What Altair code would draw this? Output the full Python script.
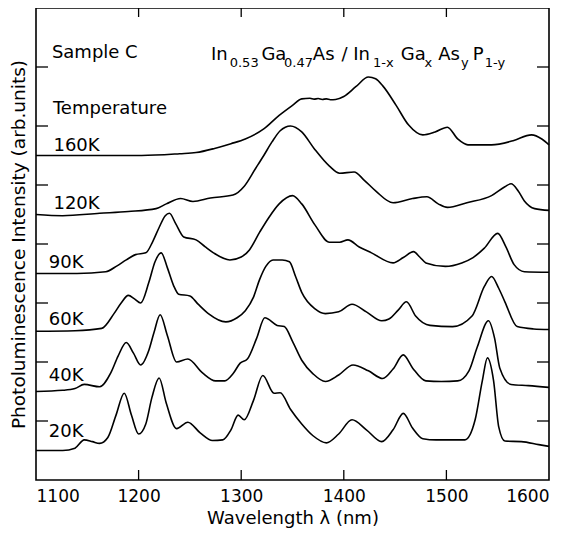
import altair as alt
import pandas as pd

# ---------------- data ----------------
temps = ["20K", "40K", "60K", "90K", "120K", "160K"]

wl_20 = [1100, 1126, 1138, 1147, 1155, 1162, 1170, 1178, 1186, 1193, 1200, 1207, 1213, 1220, 1227,
         1237, 1248, 1260, 1272, 1282, 1290, 1297, 1303, 1312, 1321, 1332, 1338, 1348, 1359, 1370,
         1383, 1395, 1408, 1422, 1437, 1448, 1458, 1467, 1477, 1490, 1518, 1528, 1535, 1540, 1546,
         1551, 1557, 1573, 1590, 1600]
i_20 = [0.50, 0.50, 0.54, 0.68, 0.65, 0.62, 0.72, 1.10, 1.47, 1.10, 0.78, 0.95, 1.40, 1.73, 1.30,
        0.87, 0.98, 0.80, 0.67, 0.68, 0.85, 1.10, 1.02, 1.35, 1.77, 1.47, 1.48, 1.20, 0.95, 0.75,
        0.63, 0.78, 1.02, 0.85, 0.65, 0.85, 1.13, 0.88, 0.70, 0.68, 0.68, 1.02, 1.68, 2.07, 1.68,
        0.90, 0.66, 0.65, 0.60, 0.57]

wl_40 = [1100, 1126, 1138, 1147, 1162, 1173, 1180, 1188, 1195, 1202, 1210, 1215, 1221, 1228, 1237,
         1248, 1262, 1275, 1284, 1292, 1299, 1306, 1315, 1323, 1335, 1342, 1350, 1359, 1370, 1382,
         1395, 1409, 1424, 1438, 1448, 1458, 1467, 1480, 1495, 1511, 1522, 1530, 1541, 1547, 1552,
         1563, 1580, 1600]
i_40 = [1.50, 1.52, 1.55, 1.62, 1.58, 1.82, 2.10, 2.33, 2.15, 1.95, 2.20, 2.50, 2.80, 2.45, 2.00,
        2.05, 1.82, 1.68, 1.68, 1.80, 1.98, 2.05, 2.40, 2.75, 2.62, 2.60, 2.35, 2.03, 1.80, 1.67,
        1.78, 1.95, 1.85, 1.72, 1.88, 2.12, 1.90, 1.68, 1.67, 1.68, 1.85, 2.25, 2.70, 2.40, 1.90,
        1.62, 1.60, 1.57]

wl_60 = [1100, 1138, 1164, 1176, 1183, 1190, 1196, 1202, 1210, 1216, 1222, 1228, 1234, 1239, 1250,
         1258, 1268, 1285, 1296, 1304, 1312, 1318, 1324, 1331, 1340, 1347, 1353, 1359, 1372, 1382,
         1395, 1408, 1422, 1437, 1444, 1453, 1461, 1470, 1484, 1506, 1525, 1537, 1544, 1551, 1557,
         1569, 1585, 1600]
i_60 = [2.52, 2.53, 2.57, 2.82, 3.00, 3.13, 3.07, 3.00, 3.35, 3.70, 3.85, 3.60, 3.30, 3.15, 3.12,
        2.98, 2.82, 2.68, 2.75, 2.87, 3.10, 3.40, 3.62, 3.73, 3.73, 3.70, 3.45, 3.18, 2.90, 2.82,
        2.85, 2.98, 2.85, 2.70, 2.73, 2.88, 3.02, 2.78, 2.62, 2.60, 2.78, 3.28, 3.45, 3.25, 3.02,
        2.60, 2.56, 2.55]

wl_90 = [1100, 1140, 1168, 1179, 1188, 1197, 1207, 1214, 1220, 1226, 1230, 1236, 1244, 1256, 1265,
         1273, 1289, 1300, 1308, 1318, 1327, 1337, 1350, 1359, 1372, 1386, 1396, 1404, 1415, 1427,
         1448, 1458, 1468, 1474, 1480, 1499, 1515, 1526, 1537, 1550, 1558, 1566, 1576, 1600]
i_90 = [3.50, 3.50, 3.53, 3.63, 3.73, 3.82, 3.85, 4.05, 4.28, 4.48, 4.52, 4.35, 4.12, 4.07, 3.95,
        3.85, 3.73, 3.78, 3.90, 4.20, 4.45, 4.68, 4.82, 4.68, 4.32, 4.03, 4.03, 4.07, 3.95, 3.85,
        3.68, 3.77, 3.87, 3.78, 3.68, 3.62, 3.68, 3.77, 3.93, 4.18, 3.95, 3.65, 3.53, 3.52]

wl_120 = [1100, 1126, 1162, 1190, 1217, 1227, 1241, 1253, 1270, 1292, 1303, 1314, 1322, 1330, 1338,
          1343, 1348, 1359, 1371, 1386, 1396, 1410, 1420, 1431, 1448, 1467, 1481, 1492, 1501, 1520,
          1544, 1557, 1563, 1570, 1576, 1586, 1600]
i_120 = [4.50, 4.48, 4.52, 4.55, 4.60, 4.68, 4.77, 4.72, 4.78, 4.83, 4.98, 5.28, 5.50, 5.73, 5.92,
         5.98, 6.00, 5.90, 5.62, 5.32, 5.20, 5.22, 5.08, 4.90, 4.70, 4.77, 4.80, 4.68, 4.62, 4.70,
         4.82, 4.97, 5.02, 4.90, 4.73, 4.60, 4.57]

wl_160 = [1100, 1150, 1203, 1240, 1256, 1274, 1290, 1304, 1322, 1337, 1350, 1359, 1367, 1371, 1375,
          1379, 1383, 1387, 1392, 1400, 1412, 1424, 1431, 1438, 1451, 1463, 1477, 1489, 1501, 1511,
          1521, 1544, 1565, 1583, 1593, 1600]
i_160 = [5.50, 5.50, 5.50, 5.53, 5.55, 5.62, 5.70, 5.78, 5.95, 6.18, 6.35, 6.46, 6.47, 6.455, 6.465,
         6.45, 6.46, 6.445, 6.45, 6.50, 6.67, 6.83, 6.80, 6.68, 6.35, 6.02, 5.85, 5.90, 5.98, 5.78,
         5.68, 5.68, 5.75, 5.85, 5.78, 5.68]

x_ticks = [1100, 1200, 1300, 1400, 1500, 1600]
x_inner_ticks = [1200, 1300, 1400, 1500]
y_inner_ticks = [1, 2, 3, 4, 5, 6, 7]

# temperature labels and text notes (wavelength, intensity position)
note_text = ["Sample C", "Temperature", "160K", "120K", "90K", "60K", "40K", "20K"]
note_wl = [1115.5, 1116.5, 1117.0, 1117.0, 1112.5, 1112.5, 1112.5, 1112.5]
note_y = [7.15, 6.20, 5.58, 4.60, 3.60, 2.62, 1.68, 0.73]

# title "In0.53Ga0.47As / In1-xGaxAsyP1-y" split into normal and subscript pieces
ttl_text = ["In", "0.53", "Ga", "0.47", "As", "/", "In", "1-x", "Ga", "x", "As", "y", "P", "1-y"]
ttl_wl = [1270.5, 1288.8, 1319.7, 1341.8, 1369.8, 1397.7, 1409.2, 1428.5, 1455.5, 1478.6,
          1492.1, 1514.3, 1525.8, 1537.4]
ttl_sub = [0, 1, 0, 1, 0, 0, 0, 1, 0, 1, 0, 1, 0, 1]

# ---------------- build tables ----------------
series = {"20K": (wl_20, i_20), "40K": (wl_40, i_40), "60K": (wl_60, i_60),
          "90K": (wl_90, i_90), "120K": (wl_120, i_120), "160K": (wl_160, i_160)}
rows = []
for t in temps:
    wl, iv = series[t]
    for w, v in zip(wl, iv):
        rows.append({"T": t, "wl": w, "I": v})
df = pd.DataFrame(rows)

notes = pd.DataFrame({"text": note_text, "wl": note_wl, "I": note_y})
ttl = pd.DataFrame({"text": ttl_text, "wl": ttl_wl,
                    "I": [7.00 if s else 7.12 for s in ttl_sub],
                    "size": [13 if s else 18 for s in ttl_sub]})

W, H = 513, 472
FONT = "DejaVu Sans"
XT = "Wavelength λ (nm)"
YT = "Photoluminescence Intensity (arb.units)"
xs = alt.Scale(domain=[1100, 1600], nice=False, zero=False)
ys = alt.Scale(domain=[0, 8], nice=False, zero=False)
xax = alt.Axis(values=x_ticks, format="d", title=XT, ticks=False, domain=False, grid=False,
               labelPadding=8, titlePadding=5, labelFontSize=17, titleFontSize=18)
yax = alt.Axis(labels=False, ticks=False, domain=False, grid=False, title=YT,
               titlePadding=8, titleFontSize=18.5)


def X(field="wl"):
    return alt.X(f"{field}:Q", scale=xs, axis=xax, title=XT)


def Y(field="I"):
    return alt.Y(f"{field}:Q", scale=ys, axis=yax, title=YT)


lines = alt.Chart(df).mark_line(color="black", strokeWidth=1.6, interpolate="monotone").encode(
    x=X(), y=Y(), detail="T:N")

ydf = pd.DataFrame({"I": y_inner_ticks})
xdf = pd.DataFrame({"wl": x_inner_ticks})
tick_l = alt.Chart(ydf).mark_rule(color="black", strokeWidth=1.3).encode(
    y=Y(), x=alt.value(0), x2=alt.value(12))
tick_r = alt.Chart(ydf).mark_rule(color="black", strokeWidth=1.3).encode(
    y=Y(), x=alt.value(W - 12), x2=alt.value(W))
tick_b = alt.Chart(xdf).mark_rule(color="black", strokeWidth=1.3).encode(
    x=X(), y=alt.value(H - 10), y2=alt.value(H))
tick_t = alt.Chart(xdf).mark_rule(color="black", strokeWidth=1.3).encode(
    x=X(), y=alt.value(0), y2=alt.value(9))

note_layer = alt.Chart(notes).mark_text(align="left", baseline="alphabetic", font=FONT,
                                        fontSize=18, color="black").encode(
    x=X(), y=Y(), text="text:N")

ttl_layer = alt.Chart(ttl).mark_text(align="left", baseline="alphabetic", font=FONT,
                                     color="black").encode(
    x=X(), y=Y(), text="text:N",
    size=alt.Size("size:Q", scale=None, legend=None))

chart = alt.layer(lines, tick_l, tick_r, tick_b, tick_t, note_layer, ttl_layer).properties(
    width=W, height=H,
    padding={"left": 28, "top": 0, "right": 22, "bottom": 53},
    autosize=alt.AutoSizeParams(type="none"),
).configure_view(stroke="black", strokeWidth=1.6).configure_axis(
    labelFont=FONT, titleFont=FONT, labelColor="black", titleColor="black",
    titleFontWeight="normal")

chart.save("out.html", embed_options={"renderer": "svg", "actions": False})
